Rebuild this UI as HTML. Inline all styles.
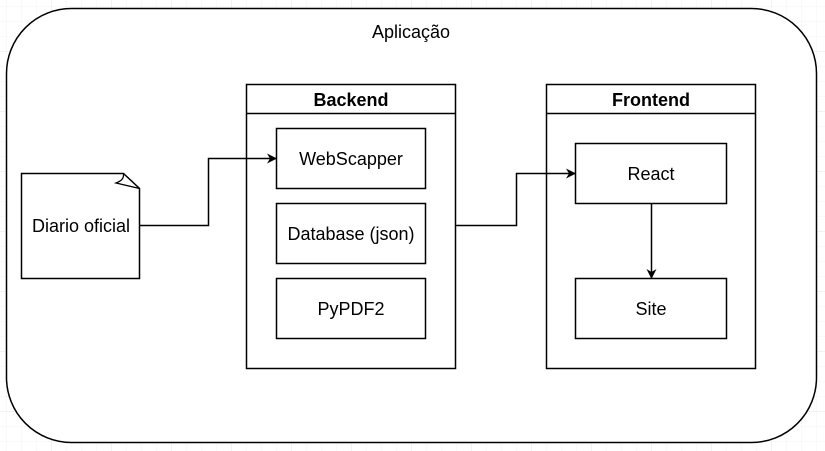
<!DOCTYPE html>
<html><head><meta charset="utf-8"><style>
html,body{margin:0;padding:0;background:#fff;}
svg{display:block;}
text{font-family:"Liberation Sans",sans-serif;font-size:18px;fill:#000;}
</style></head><body>
<svg width="825" height="451" viewBox="0 0 825 451" xmlns="http://www.w3.org/2000/svg">
<defs>
<pattern id="minor" x="7" y="7" width="15" height="15" patternUnits="userSpaceOnUse">
<path d="M15 0V15M0 15H15" stroke="#f3f3f3" stroke-width="1" fill="none"/>
</pattern>
<pattern id="major" x="-8" y="-8" width="60" height="60" patternUnits="userSpaceOnUse">
<path d="M60 0V60M0 60H60" stroke="#e6e6e6" stroke-width="1" fill="none"/>
</pattern>
<marker id="ar" markerWidth="10" markerHeight="10" refX="9" refY="5" orient="auto" markerUnits="userSpaceOnUse">
<path d="M0,0 L10,5 L0,10 L3,5 Z" fill="#000"/>
</marker>
</defs>
<rect width="825" height="451" fill="url(#minor)"/>
<rect width="825" height="451" fill="url(#major)"/>
<rect x="6.5" y="8.5" width="810" height="434" rx="65" ry="65" fill="#fff" stroke="#000" stroke-width="1.5"/>
<text x="411" y="38" text-anchor="middle">Aplicação</text>

<path d="M21.5,173.5 H123.5 L139.5,188.5 V278.5 H21.5 Z" fill="#fff" stroke="#000" stroke-width="1.5"/>
<path d="M123.5,173.5 C124,179 121,181 116,183 L139.5,188.5" fill="none" stroke="#000" stroke-width="1.3"/>
<text x="81" y="232" text-anchor="middle">Diario oficial</text>

<rect x="246.5" y="84.5" width="209" height="284" fill="#fff" stroke="#000" stroke-width="1.5"/>
<line x1="246.5" y1="113.5" x2="455.5" y2="113.5" stroke="#000" stroke-width="1.5"/>
<text x="351" y="106" text-anchor="middle" font-weight="bold">Backend</text>
<rect x="276.5" y="128.5" width="149" height="60" fill="#fff" stroke="#000" stroke-width="1.5"/>
<text x="351" y="165" text-anchor="middle">WebScapper</text>
<rect x="276.5" y="203.5" width="149" height="60" fill="#fff" stroke="#000" stroke-width="1.5"/>
<text x="351" y="240" text-anchor="middle">Database (json)</text>
<rect x="276.5" y="278.5" width="149" height="60" fill="#fff" stroke="#000" stroke-width="1.5"/>
<text x="351" y="315" text-anchor="middle">PyPDF2</text>

<rect x="546.5" y="84.5" width="209" height="284" fill="#fff" stroke="#000" stroke-width="1.5"/>
<line x1="546.5" y1="113.5" x2="755.5" y2="113.5" stroke="#000" stroke-width="1.5"/>
<text x="651" y="106" text-anchor="middle" font-weight="bold">Frontend</text>
<rect x="575.5" y="143.5" width="151" height="60" fill="#fff" stroke="#000" stroke-width="1.5"/>
<text x="651" y="180" text-anchor="middle">React</text>
<rect x="575.5" y="278.5" width="151" height="60" fill="#fff" stroke="#000" stroke-width="1.5"/>
<text x="651" y="315" text-anchor="middle">Site</text>

<path d="M139.5,225.5 H208.5 V158.5 H276" fill="none" stroke="#000" stroke-width="1.5" marker-end="url(#ar)"/>
<path d="M455.5,225.5 H516.5 V173.5 H575" fill="none" stroke="#000" stroke-width="1.5" marker-end="url(#ar)"/>
<path d="M651.5,203.5 V278" fill="none" stroke="#000" stroke-width="1.5" marker-end="url(#ar)"/>
</svg>
</body></html>
